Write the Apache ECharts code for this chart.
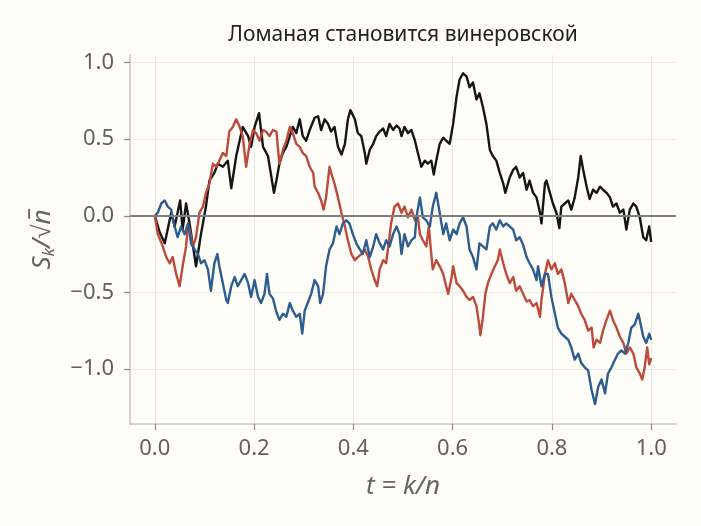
<!DOCTYPE html>
<html>
<head>
<meta charset="utf-8">
<style>
  html, body { margin: 0; padding: 0; background: #fefdf8; }
  #chart { width: 701px; height: 526px; }
</style>
<script src="https://cdn.jsdelivr.net/npm/echarts@6/dist/echarts.min.js"></script>
</head>
<body>
<div id="chart"></div>
<script>
// три траектории S_k/sqrt(n)
var blackT = [0.000, 0.010, 0.020, 0.033, 0.040, 0.051, 0.056, 0.063, 0.070, 0.077, 0.083, 0.093, 0.103, 0.110, 0.120, 0.127, 0.137, 0.147, 0.154, 0.164,
  0.177, 0.188, 0.194, 0.201, 0.210, 0.218, 0.228, 0.240, 0.245, 0.251, 0.258, 0.265, 0.272, 0.278, 0.285, 0.292, 0.298, 0.305, 0.312, 0.322,
  0.329, 0.335, 0.342, 0.349, 0.355, 0.362, 0.369, 0.376, 0.383, 0.389, 0.394, 0.403, 0.409, 0.416, 0.423, 0.426, 0.433, 0.440, 0.446, 0.453,
  0.460, 0.466, 0.473, 0.480, 0.487, 0.493, 0.497, 0.503, 0.510, 0.517, 0.524, 0.530, 0.537, 0.544, 0.550, 0.557, 0.562, 0.567, 0.574, 0.581,
  0.587, 0.594, 0.601, 0.608, 0.614, 0.621, 0.628, 0.634, 0.641, 0.648, 0.654, 0.661, 0.668, 0.675, 0.681, 0.688, 0.695, 0.702, 0.706, 0.715,
  0.722, 0.728, 0.735, 0.742, 0.749, 0.755, 0.762, 0.769, 0.776, 0.779, 0.786, 0.789, 0.796, 0.802, 0.809, 0.815, 0.819, 0.826, 0.833, 0.839,
  0.846, 0.853, 0.858, 0.863, 0.870, 0.876, 0.883, 0.890, 0.897, 0.903, 0.910, 0.917, 0.923, 0.930, 0.937, 0.944, 0.950, 0.957, 0.964, 0.970,
  0.977, 0.984, 0.990, 0.996, 1.000];
var blackV = [0.00, -0.11, -0.18, 0.02, -0.07, 0.10, -0.09, 0.08, -0.05, -0.20, -0.33, -0.12, 0.06, 0.23, 0.28, 0.34, 0.32, 0.36, 0.18, 0.39,
  0.58, 0.52, 0.45, 0.58, 0.67, 0.45, 0.39, 0.15, 0.23, 0.34, 0.41, 0.45, 0.52, 0.58, 0.54, 0.63, 0.52, 0.49, 0.56, 0.64,
  0.65, 0.56, 0.63, 0.60, 0.55, 0.58, 0.45, 0.40, 0.47, 0.63, 0.69, 0.63, 0.54, 0.52, 0.41, 0.34, 0.43, 0.47, 0.52, 0.55,
  0.57, 0.52, 0.60, 0.56, 0.59, 0.57, 0.52, 0.58, 0.54, 0.56, 0.49, 0.41, 0.32, 0.36, 0.34, 0.36, 0.27, 0.36, 0.47, 0.51,
  0.49, 0.47, 0.60, 0.78, 0.89, 0.93, 0.91, 0.84, 0.87, 0.76, 0.80, 0.71, 0.60, 0.43, 0.39, 0.36, 0.28, 0.21, 0.15, 0.25,
  0.30, 0.32, 0.25, 0.28, 0.17, 0.23, 0.15, 0.12, 0.02, -0.05, 0.21, 0.23, 0.15, 0.08, 0.02, -0.08, 0.06, 0.08, 0.10, 0.04,
  0.12, 0.25, 0.39, 0.30, 0.19, 0.11, 0.17, 0.15, 0.19, 0.17, 0.15, 0.12, 0.06, 0.08, 0.02, 0.04, -0.09, 0.04, 0.08, 0.06,
  -0.01, -0.14, -0.16, -0.07, -0.17];

var redT = [0.000, 0.006, 0.016, 0.023, 0.030, 0.036, 0.043, 0.050, 0.056, 0.063, 0.067, 0.072, 0.077, 0.083, 0.090, 0.097, 0.103, 0.110, 0.117, 0.124,
  0.130, 0.137, 0.144, 0.150, 0.157, 0.164, 0.171, 0.177, 0.184, 0.191, 0.198, 0.204, 0.211, 0.218, 0.224, 0.231, 0.238, 0.245, 0.251, 0.258,
  0.265, 0.272, 0.278, 0.285, 0.292, 0.298, 0.305, 0.312, 0.319, 0.322, 0.329, 0.335, 0.340, 0.345, 0.352, 0.358, 0.362, 0.369, 0.376, 0.383,
  0.389, 0.396, 0.403, 0.409, 0.416, 0.423, 0.430, 0.436, 0.443, 0.448, 0.453, 0.460, 0.466, 0.472, 0.476, 0.483, 0.490, 0.497, 0.503, 0.510,
  0.517, 0.524, 0.530, 0.534, 0.540, 0.547, 0.552, 0.557, 0.560, 0.567, 0.574, 0.581, 0.587, 0.591, 0.597, 0.601, 0.608, 0.614, 0.621, 0.628,
  0.634, 0.641, 0.648, 0.653, 0.656, 0.661, 0.666, 0.671, 0.678, 0.685, 0.691, 0.695, 0.702, 0.708, 0.715, 0.722, 0.728, 0.735, 0.742, 0.749,
  0.755, 0.762, 0.769, 0.776, 0.779, 0.786, 0.792, 0.799, 0.806, 0.812, 0.819, 0.826, 0.833, 0.839, 0.846, 0.853, 0.859, 0.866, 0.873, 0.880,
  0.884, 0.890, 0.897, 0.903, 0.910, 0.917, 0.923, 0.930, 0.937, 0.944, 0.950, 0.957, 0.964, 0.970, 0.977, 0.982, 0.987, 0.992, 0.996, 1.000];
var redV = [0.00, -0.12, -0.20, -0.27, -0.31, -0.27, -0.38, -0.46, -0.33, -0.20, -0.05, -0.12, -0.20, -0.14, 0.02, 0.06, 0.15, 0.21, 0.34, 0.32,
  0.36, 0.41, 0.39, 0.55, 0.58, 0.63, 0.58, 0.52, 0.32, 0.47, 0.56, 0.54, 0.49, 0.56, 0.55, 0.52, 0.56, 0.55, 0.34, 0.43,
  0.49, 0.58, 0.54, 0.47, 0.45, 0.41, 0.39, 0.32, 0.28, 0.19, 0.15, 0.10, 0.04, 0.12, 0.32, 0.25, 0.21, 0.12, 0.02, -0.07,
  -0.16, -0.25, -0.29, -0.27, -0.25, -0.22, -0.27, -0.35, -0.42, -0.46, -0.35, -0.29, -0.31, -0.16, -0.05, 0.06, 0.08, 0.02, 0.06, -0.01,
  0.04, -0.03, -0.01, -0.12, -0.16, -0.20, -0.07, -0.25, -0.35, -0.29, -0.33, -0.38, -0.46, -0.51, -0.42, -0.33, -0.44, -0.46, -0.49, -0.53,
  -0.55, -0.53, -0.59, -0.70, -0.78, -0.66, -0.51, -0.44, -0.38, -0.33, -0.29, -0.22, -0.31, -0.38, -0.44, -0.40, -0.49, -0.46, -0.51, -0.56,
  -0.55, -0.59, -0.57, -0.66, -0.55, -0.38, -0.29, -0.35, -0.31, -0.38, -0.35, -0.44, -0.57, -0.51, -0.55, -0.59, -0.64, -0.68, -0.75, -0.73,
  -0.86, -0.81, -0.83, -0.75, -0.68, -0.62, -0.68, -0.73, -0.79, -0.83, -0.90, -0.86, -0.90, -0.99, -1.03, -1.07, -0.99, -0.86, -0.97, -0.93];

var blueT = [0.000, 0.006, 0.013, 0.020, 0.026, 0.033, 0.040, 0.046, 0.053, 0.060, 0.067, 0.073, 0.080, 0.087, 0.093, 0.100, 0.107, 0.113, 0.120, 0.126,
  0.130, 0.137, 0.144, 0.147, 0.154, 0.161, 0.167, 0.174, 0.181, 0.188, 0.194, 0.201, 0.208, 0.214, 0.221, 0.226, 0.231, 0.238, 0.245, 0.251,
  0.258, 0.265, 0.272, 0.278, 0.285, 0.292, 0.297, 0.302, 0.308, 0.315, 0.322, 0.329, 0.333, 0.339, 0.345, 0.352, 0.359, 0.366, 0.372, 0.379,
  0.386, 0.392, 0.399, 0.406, 0.413, 0.419, 0.426, 0.433, 0.440, 0.446, 0.453, 0.460, 0.466, 0.473, 0.480, 0.487, 0.493, 0.497, 0.503, 0.510,
  0.517, 0.524, 0.527, 0.534, 0.540, 0.547, 0.554, 0.560, 0.567, 0.574, 0.581, 0.587, 0.594, 0.601, 0.608, 0.614, 0.621, 0.628, 0.634, 0.641,
  0.648, 0.654, 0.661, 0.668, 0.675, 0.681, 0.688, 0.695, 0.702, 0.708, 0.715, 0.722, 0.728, 0.735, 0.742, 0.749, 0.755, 0.762, 0.769, 0.772,
  0.779, 0.786, 0.792, 0.799, 0.806, 0.812, 0.819, 0.826, 0.833, 0.839, 0.846, 0.853, 0.859, 0.866, 0.873, 0.880, 0.887, 0.893, 0.900, 0.907,
  0.913, 0.920, 0.927, 0.933, 0.940, 0.947, 0.954, 0.960, 0.967, 0.974, 0.977, 0.984, 0.990, 0.996, 1.000];
var blueV = [0.00, 0.02, 0.08, 0.10, 0.06, 0.04, -0.07, -0.14, -0.07, -0.12, -0.05, -0.18, -0.22, -0.25, -0.31, -0.29, -0.35, -0.49, -0.31, -0.25,
  -0.33, -0.44, -0.55, -0.57, -0.46, -0.40, -0.46, -0.42, -0.38, -0.44, -0.53, -0.42, -0.53, -0.57, -0.51, -0.38, -0.51, -0.54, -0.63, -0.68,
  -0.64, -0.66, -0.57, -0.62, -0.66, -0.64, -0.77, -0.62, -0.57, -0.51, -0.42, -0.46, -0.57, -0.51, -0.33, -0.22, -0.18, -0.07, -0.12, -0.05,
  -0.03, -0.05, -0.12, -0.18, -0.22, -0.25, -0.16, -0.27, -0.20, -0.12, -0.18, -0.22, -0.16, -0.20, -0.12, -0.07, -0.12, -0.25, -0.12, -0.20,
  -0.16, -0.14, -0.01, 0.12, -0.01, -0.03, -0.07, 0.06, 0.15, 0.02, -0.12, -0.05, -0.16, -0.09, -0.12, -0.05, -0.01, -0.07, -0.22, -0.27,
  -0.35, -0.18, -0.20, -0.22, -0.07, -0.05, -0.09, -0.03, -0.07, -0.05, -0.07, -0.09, -0.16, -0.14, -0.19, -0.27, -0.31, -0.35, -0.42, -0.33,
  -0.46, -0.38, -0.38, -0.53, -0.64, -0.73, -0.77, -0.79, -0.81, -0.86, -0.94, -0.90, -0.96, -0.99, -1.01, -1.14, -1.23, -1.12, -1.07, -1.16,
  -1.03, -0.99, -0.94, -0.90, -0.88, -0.90, -0.83, -0.73, -0.71, -0.64, -0.68, -0.79, -0.83, -0.77, -0.81];

var xTicks = [0.0, 0.2, 0.4, 0.6, 0.8, 1.0];
var yTicks = [-1.0, -0.5, 0.0, 0.5, 1.0];

function zip(ts, vs) {
  var out = [];
  for (var i = 0; i < ts.length; i++) {
    out.push([ts[i], vs[i]]);
  }
  return out;
}

function fmt(v) {
  var s = Math.abs(v).toFixed(1);
  return v < 0 ? '\u2212' + s : s;
}

var chart = echarts.init(document.getElementById('chart'), null, { renderer: 'canvas' });

var gridColor = '#ebebe5';
var labelColor = '#5f5f5f';

var option = {
  backgroundColor: '#fefdf8',
  animation: false,
  title: {
    text: 'Ломаная становится винеровской',
    left: 398,
    top: 20,
    textAlign: 'center',
    textStyle: { fontFamily: 'Noto Sans', fontSize: 21, fontWeight: 'normal', color: '#222222' }
  },
  grid: { left: 130, right: 25, top: 55, bottom: 102 },
  xAxis: {
    type: 'value',
    min: -0.05,
    max: 1.05,
    name: 't = k/n',
    nameLocation: 'middle',
    nameGap: 50,
    nameTextStyle: { fontFamily: 'Noto Sans', fontStyle: 'italic', fontSize: 26, color: '#666666' },
    axisLine: { show: true, onZero: false, lineStyle: { color: '#c6c6be', width: 1.5 } },
    axisTick: { show: true, length: 6, customValues: xTicks, lineStyle: { color: '#8a8a8a', width: 1.2 } },
    axisLabel: {
      customValues: xTicks,
      formatter: fmt,
      margin: 14,
      fontFamily: 'Noto Sans',
      fontSize: 22,
      color: labelColor
    },
    splitLine: { show: true, lineStyle: { color: gridColor, width: 1 } }
  },
  yAxis: {
    type: 'value',
    min: -1.36,
    max: 1.05,
    name: '{a|S}{b|k}{a|/\u221An\u0305}',
    nameLocation: 'middle',
    nameGap: 72,
    nameRotate: 90,
    nameTextStyle: {
      color: '#666666',
      rich: {
        a: { fontFamily: 'Noto Sans', fontStyle: 'italic', fontSize: 26, lineHeight: 30, color: '#666666' },
        b: { fontFamily: 'Noto Sans', fontStyle: 'italic', fontSize: 17, lineHeight: 20, verticalAlign: 'bottom', color: '#666666' }
      }
    },
    axisLine: { show: true, onZero: false, lineStyle: { color: '#c6c6be', width: 1.5 } },
    axisTick: { show: true, length: 6, customValues: yTicks, lineStyle: { color: '#8a8a8a', width: 1.2 } },
    axisLabel: {
      customValues: yTicks,
      formatter: fmt,
      margin: 16,
      fontFamily: 'Noto Sans',
      fontSize: 22,
      color: labelColor
    },
    splitLine: { show: true, lineStyle: { color: gridColor, width: 1 } }
  },
  series: [
    {
      name: 'black',
      type: 'line',
      data: zip(blackT, blackV),
      showSymbol: false,
      lineStyle: { color: '#151515', width: 2.4, join: 'round' },
      itemStyle: { color: '#151515' }
    },
    {
      name: 'red',
      type: 'line',
      data: zip(redT, redV),
      showSymbol: false,
      lineStyle: { color: '#bd4a3b', width: 2.4, join: 'round' },
      itemStyle: { color: '#bd4a3b' }
    },
    {
      name: 'blue',
      type: 'line',
      data: zip(blueT, blueV),
      showSymbol: false,
      lineStyle: { color: '#2c5d8e', width: 2.4, join: 'round' },
      itemStyle: { color: '#2c5d8e' },
      markLine: {
        silent: true,
        symbol: 'none',
        label: { show: false },
        lineStyle: { color: '#7f7f7f', width: 2, type: 'solid' },
        data: [{ yAxis: 0 }]
      }
    }
  ]
};

chart.setOption(option);
</script>
</body>
</html>
